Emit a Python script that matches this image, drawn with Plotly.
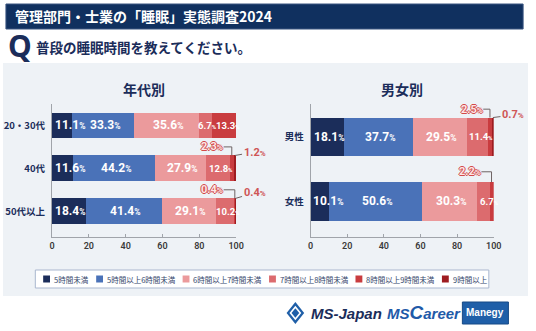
import plotly.graph_objects as go

W, H = 536, 331

# ---- data -------------------------------------------------------------
series_names = ["5時間未満", "5時間以上6時間未満", "6時間以上7時間未満",
                "7時間以上8時間未満", "8時間以上9時間未満", "9時間以上"]
series_colors = ["#1b2d5a", "#4a72b8", "#eb9a9c", "#dc6b6e", "#c93c3f", "#9e1c20"]

age_groups = ["20・30代", "40代", "50代以上"]
age_values = [
    [11.1, 11.6, 18.4],
    [33.3, 44.2, 41.4],
    [35.6, 27.9, 29.1],
    [6.7, 12.8, 10.2],
    [13.3, 2.3, 0.4],
    [0.0, 1.2, 0.4],
]

gender_groups = ["男性", "女性"]
gender_values = [
    [18.1, 10.1],
    [37.7, 50.6],
    [29.5, 30.3],
    [11.4, 6.7],
    [2.5, 2.2],
    [0.7, 0.0],
]

x_ticks = [0, 20, 40, 60, 80, 100]

# ---- styling helpers ----------------------------------------------------
NAVY = "#1b2d5a"
JP = "Noto Sans CJK JP"
NUM = "Roboto"
CALLOUT_RED = "#d24a4a"


def fx(p):
    return p / W


def fy(p):
    return 1 - p / H


def page_text(x, y, text, font, xanchor="left"):
    return dict(x=fx(x), y=fy(y), xref="paper", yref="paper", text=text,
                xanchor=xanchor, yanchor="middle", showarrow=False, font=font)


def label_width(v, size):
    """Rough pixel width of a 'xx.x%' label in bold Roboto."""
    digits = len(f"{v:.1f}") - 1
    return digits * 0.57 * size + 0.27 * size + 0.85 * (size - 4)


fig = go.Figure()

panels = [
    dict(groups=age_groups, values=age_values, xa="x", ya="y", title="年代別",
         xdom=(50, 238), yrange=[2.6, -0.5], bw=0.6,
         nudge={(0, 3): -4, (0, 4): 2, (2, 3): -2},
         callouts={(1, 4): (87.0, 0.50, "elbow"), (1, 5): (110.0, 0.62, "diag"),
                   (2, 4): (87.0, 1.50, "elbow"), (2, 5): (110.0, 1.57, "diag")}),
    dict(groups=gender_groups, values=gender_values, xa="x2", ya="y2", title="男女別",
         xdom=(314, 501), yrange=[1.55, -0.51], bw=0.6,
         nudge={},
         callouts={(0, 4): (88.0, -0.43, "elbow"), (0, 5): (110.5, -0.34, "diag"),
                   (1, 4): (87.0, 0.54, "elbow")}),
]

annotations = []
shapes = []

for pn in panels:
    groups, values = pn["groups"], pn["values"]
    px_per_unit = (pn["xdom"][1] - pn["xdom"][0]) / 100
    for s, name in enumerate(series_names):
        fig.add_trace(go.Bar(
            x=values[s], y=groups, orientation="h", name=name,
            marker=dict(color=series_colors[s], line=dict(width=0)),
            width=pn["bw"], xaxis=pn["xa"], yaxis=pn["ya"],
            showlegend=False, hoverinfo="skip",
        ))

    # value labels
    for i in range(len(groups)):
        cum = 0.0
        for s in range(len(series_names)):
            v = values[s][i]
            start = cum
            mid = cum + v / 2
            cum += v
            if v <= 0:
                continue
            key = (i, s)
            if key in pn["callouts"]:
                lx, ly, kind = pn["callouts"][key]
                top = i - pn["bw"] / 2
                txt = f"{v:.1f}<span style='font-size:8px'>%</span>"
                if kind == "elbow":
                    annotations.append(dict(
                        x=mid, y=ly, ax=lx, ay=ly, xref=pn["xa"], yref=pn["ya"],
                        axref=pn["xa"], ayref=pn["ya"], text=txt, showarrow=True,
                        arrowhead=0, arrowwidth=1, arrowcolor="#6e6464",
                        standoff=0, startstandoff=0, borderpad=0,
                        font=dict(family=NUM, size=11, weight="bold", color="#fde6e6",
                                  shadow=(f"1px 0 0 {CALLOUT_RED}, -1px 0 0 {CALLOUT_RED}, "
                                          f"0 1px 0 {CALLOUT_RED}, 0 -1px 0 {CALLOUT_RED}")),
                    ))
                    shapes.append(dict(type="line", xref=pn["xa"], yref=pn["ya"],
                                       x0=mid, x1=mid, y0=ly, y1=top,
                                       line=dict(color="#6e6464", width=1)))
                else:
                    annotations.append(dict(
                        x=mid, y=top, ax=lx, ay=ly, xref=pn["xa"], yref=pn["ya"],
                        axref=pn["xa"], ayref=pn["ya"], text=txt, showarrow=True,
                        arrowhead=0, arrowwidth=1, arrowcolor="#6e6464",
                        standoff=0, startstandoff=1, borderpad=0,
                        font=dict(family=NUM, size=11, weight="bold", color="#cf5656"),
                    ))
            else:
                size = 12 if s < 3 else 9.5
                half = label_width(v, size) / 2
                # keep narrow first segments' labels inside the bar
                xpos = max(mid, start + (half + 1.5) / px_per_unit)
                annotations.append(dict(
                    x=xpos, y=i, xref=pn["xa"], yref=pn["ya"], showarrow=False,
                    xanchor="center", yanchor="middle", borderpad=0,
                    xshift=1.5 + pn["nudge"].get(key, 0),
                    text=f"{v:.1f}<span style='font-size:{size - 3.5}px'>%</span>",
                    font=dict(family=NUM, size=size, weight="bold", color="white"),
                ))

    # panel title
    annotations.append(page_text((pn["xdom"][0] + pn["xdom"][1]) / 2, 89, pn["title"],
                                 dict(family=JP, size=14, weight="bold", color=NAVY),
                                 xanchor="center"))

axis_common_x = dict(range=[0, 100], tickvals=x_ticks, showgrid=False, zeroline=False,
                     showline=True, linecolor="#a0a4aa", linewidth=1,
                     ticks="inside", ticklen=3, tickcolor="#a0a4aa",
                     tickfont=dict(family=NUM, size=9, weight=600, color="#3a3a3a"),
                     fixedrange=True)
axis_common_y = dict(type="category", showgrid=False, zeroline=False, showline=True,
                     linecolor="#a0a4aa", linewidth=1, ticks="", ticklabelstandoff=4,
                     tickfont=dict(family=JP, size=9.5, weight="bold", color=NAVY),
                     fixedrange=True)

ydom = [fy(237), fy(104)]

fig.update_layout(
    xaxis=dict(domain=[fx(50), fx(238)], anchor="y", **axis_common_x),
    yaxis=dict(domain=ydom, anchor="x", range=panels[0]["yrange"],
               categoryarray=age_groups, categoryorder="array", **axis_common_y),
    xaxis2=dict(domain=[fx(314), fx(501)], anchor="y2", **axis_common_x),
    yaxis2=dict(domain=ydom, anchor="x2", range=panels[1]["yrange"],
                categoryarray=gender_groups, categoryorder="array", **axis_common_y),
)

# ---- page decoration -----------------------------------------------------
# light panel behind both charts
shapes.append(dict(type="rect", xref="paper", yref="paper", layer="below",
                   x0=0, x1=1, y0=fy(296), y1=fy(63),
                   fillcolor="#eef2f6", line=dict(width=0)))
# heading bar
shapes.append(dict(type="rect", xref="paper", yref="paper", layer="below",
                   x0=fx(3), x1=fx(531), y0=fy(29), y1=fy(4),
                   fillcolor="#10305f", line=dict(color="#3a5580", width=1)))
annotations.append(page_text(10, 16.5, "管理部門・士業の「睡眠」実態調査2024",
                             dict(family=JP, size=14, weight="bold", color="white")))
# question line
annotations.append(page_text(3, 46, "Q",
                             dict(family="Noto Sans", size=30, weight="bold", color=NAVY)))
annotations.append(page_text(32, 46.5, "普段の睡眠時間を教えてください。",
                             dict(family=JP, size=13.5, weight="bold", color=NAVY)))

# legend box with swatches
shapes.append(dict(type="rect", xref="paper", yref="paper", layer="below",
                   x0=fx(33), x1=fx(496), y0=fy(288), y1=fy(270),
                   fillcolor="white", line=dict(color="#aab7cf", width=1)))
lx = 41.0
leg_font = 7.5
for name, col in zip(series_names, series_colors):
    shapes.append(dict(type="rect", xref="paper", yref="paper",
                       x0=fx(lx), x1=fx(lx + 7), y0=fy(282.5), y1=fy(275.5),
                       fillcolor=col, line=dict(width=0)))
    annotations.append(page_text(lx + 9, 279, name,
                                 dict(family=JP, size=leg_font, color="#34466b")))
    tw = sum(leg_font * (0.55 if ch.isdigit() else 1.0) for ch in name)
    lx += 9 + tw + 11

# logos
cx, cy = 298.5, 313
shapes.append(dict(type="path", xref="paper", yref="paper",
                   path=(f"M {fx(cx)},{fy(cy - 11)} L {fx(cx + 9)},{fy(cy)} "
                         f"L {fx(cx)},{fy(cy + 11)} L {fx(cx - 9)},{fy(cy)} Z"),
                   fillcolor="#1f5fa8", line=dict(width=0)))
shapes.append(dict(type="path", xref="paper", yref="paper",
                   path=(f"M {fx(cx)},{fy(cy - 6)} L {fx(cx + 5)},{fy(cy)} "
                         f"L {fx(cx)},{fy(cy + 6)} L {fx(cx - 5)},{fy(cy)} Z"),
                   fillcolor="rgba(0,0,0,0)", line=dict(color="white", width=1.6)))
annotations.append(page_text(312, 313, "MS-Japan",
                             dict(family="Liberation Sans", size=15, weight="bold",
                                  style="italic", color=NAVY)))
annotations.append(page_text(390, 312.5, "MS<span style='font-size:19px'>C</span>areer",
                             dict(family="Liberation Sans", size=15, weight="bold",
                                  style="italic", color="#1f5aa8")))
shapes.append(dict(type="rect", xref="paper", yref="paper",
                   x0=fx(469), x1=fx(516), y0=fy(324), y1=fy(302),
                   fillcolor="#1f5fa8", line=dict(color="#174a86", width=1)))
annotations.append(page_text(492.5, 312, "Manegy",
                             dict(family="Liberation Sans", size=10, weight="bold",
                                  color="white"), xanchor="center"))

fig.update_layout(
    barmode="stack",
    width=W, height=H,
    margin=dict(l=0, r=0, t=0, b=0),
    paper_bgcolor="white",
    plot_bgcolor="rgba(0,0,0,0)",
    font=dict(family=JP, color=NAVY),
    showlegend=False,
    shapes=shapes,
    annotations=annotations,
)

fig.write_html("out.html", config={"displayModeBar": False})
